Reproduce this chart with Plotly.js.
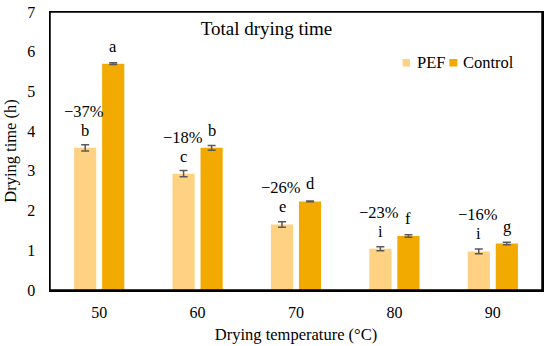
<!DOCTYPE html>
<html>
<head>
<meta charset="utf-8">
<script src="https://cdn.plot.ly/plotly-3.0.1.min.js"></script>
<style>html,body{margin:0;padding:0;background:#fff;overflow:hidden;}#chart{width:550px;height:346px;}</style>
</head>
<body>
<div id="chart"></div>
<script>
const categories = ['50', '60', '70', '80', '90'];
const pefValues = [3.58, 2.93, 1.65, 1.04, 0.97];
const controlValues = [5.70, 3.58, 2.23, 1.36, 1.17];
const pefErrors = [0.08, 0.08, 0.07, 0.05, 0.06];
const controlErrors = [0.02, 0.06, 0.01, 0.03, 0.03];
const pefLetters = ['b', 'c', 'e', 'i', 'i'];
const controlLetters = ['a', 'b', 'd', 'f', 'g'];
const reductions = ['\u221237%', '\u221218%', '\u221226%', '\u221223%', '\u221216%'];
const seriesNames = ['PEF', 'Control'];

const FONT = 'Liberation Serif';
const PEF_COLOR = '#FED282';
const CTRL_COLOR = '#F2A900';
const ERR_COLOR = '#595959';

const traces = [
  {
    type: 'bar', name: seriesNames[0], x: categories, y: pefValues,
    marker: {color: PEF_COLOR},
    error_y: {type: 'data', array: pefErrors, visible: true, color: ERR_COLOR, thickness: 1.5, width: 4}
  },
  {
    type: 'bar', name: seriesNames[1], x: categories, y: controlValues,
    marker: {color: CTRL_COLOR},
    error_y: {type: 'data', array: controlErrors, visible: true, color: ERR_COLOR, thickness: 1.5, width: 4}
  }
];

const annotations = [];
categories.forEach((c, i) => {
  annotations.push({x: i, y: pefValues[i], text: pefLetters[i], xshift: -14, yshift: 6, yanchor: 'bottom', showarrow: false, font: {family: FONT, size: 16.5, color: '#000'}});
  annotations.push({x: i, y: controlValues[i], text: controlLetters[i], xshift: 14, yshift: 6, yanchor: 'bottom', showarrow: false, font: {family: FONT, size: 16.5, color: '#000'}});
  annotations.push({x: i, y: pefValues[i], text: reductions[i], xshift: -15, yshift: 25, yanchor: 'bottom', showarrow: false, font: {family: FONT, size: 16.5, color: '#000'}});
});

// manual legend (compact, like the reference)
const legendItems = [
  {name: seriesNames[0], color: PEF_COLOR, x0: 0.7166, x1: 0.7318, tx: 0.741},
  {name: seriesNames[1], color: CTRL_COLOR, x0: 0.8117, x1: 0.828, tx: 0.836}
];
const shapes = [
  {type: 'rect', xref: 'paper', yref: 'paper', x0: 0, x1: 1, y0: 0, y1: 1, line: {color: '#000', width: 1.5}, fillcolor: 'rgba(0,0,0,0)', layer: 'above'}
];
legendItems.forEach(it => {
  shapes.push({type: 'rect', xref: 'paper', yref: 'paper', x0: it.x0, x1: it.x1, y0: 0.804, y1: 0.831, fillcolor: it.color, line: {width: 0}});
  annotations.push({xref: 'paper', yref: 'paper', x: it.tx, y: 0.818, xanchor: 'left', yanchor: 'middle', text: it.name, showarrow: false, font: {family: FONT, size: 16.5, color: '#000'}});
});

const layout = {
  width: 550, height: 346,
  margin: {l: 50, r: 8, t: 12, b: 56, autoexpand: false},
  paper_bgcolor: '#fff', plot_bgcolor: '#fff',
  font: {family: FONT, size: 16, color: '#000'},
  title: {text: 'Total drying time', xref: 'paper', yref: 'paper', x: 0.44, y: 0.94, xanchor: 'center', yanchor: 'middle', font: {family: FONT, size: 19, color: '#000'}},
  barmode: 'group', bargap: 0.43, bargroupgap: 0.21,
  showlegend: false,
  xaxis: {
    type: 'category', range: [-0.5, 4.5], autorange: false, showline: true, linecolor: '#000', linewidth: 1.5, mirror: true,
    ticks: '', showgrid: false, ticklabelstandoff: 7,
    tickfont: {family: FONT, size: 16},
    title: {text: 'Drying temperature (\u00B0C)', font: {family: FONT, size: 16.5}, standoff: 8}
  },
  yaxis: {
    range: [0, 7], autorange: false, dtick: 1, showline: true, linecolor: '#000', linewidth: 1.5, mirror: true,
    ticks: '', showgrid: false, zeroline: false, ticklabelstandoff: 10,
    tickfont: {family: FONT, size: 16},
    title: {text: 'Drying time (h)', font: {family: FONT, size: 16.5}, standoff: 6}
  },
  shapes: shapes,
  annotations: annotations
};

Plotly.newPlot('chart', traces, layout, {displayModeBar: false, staticPlot: true});
</script>
</body>
</html>
